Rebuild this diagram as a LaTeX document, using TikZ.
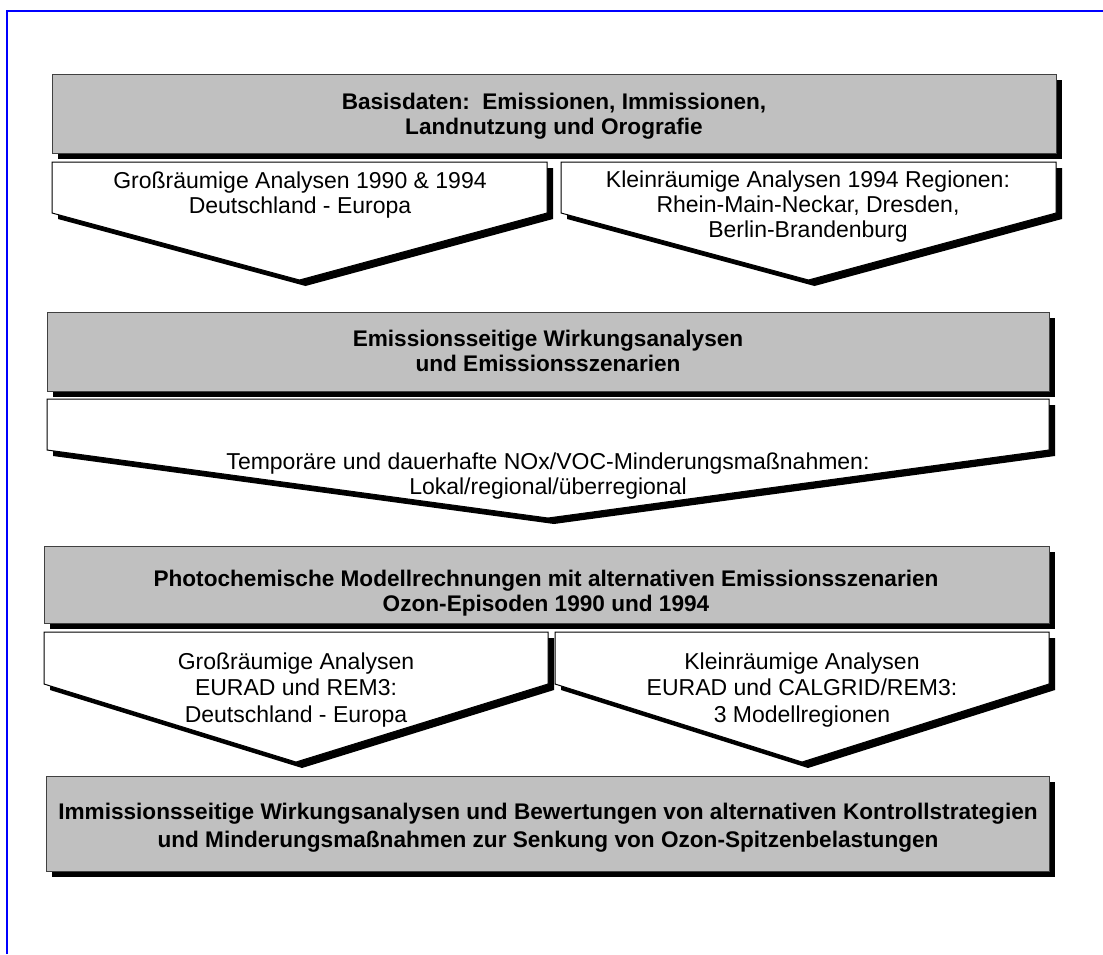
\documentclass[tikz,border=0pt]{standalone}
\usepackage{fontspec}
\setmainfont{Liberation Sans}
\definecolor{boxgray}{HTML}{C0C0C0}
\definecolor{boxedge}{HTML}{404040}
\definecolor{frameblue}{HTML}{0000FF}

\tikzset{
  panel/.style={fill=boxgray, draw=boxedge, line width=1pt},
  tagshape/.style={fill=white, draw=black, line width=1pt},
  castshadow/.style={fill=black},
  plain/.style={font=\fontsize{23}{25}\selectfont, align=center, inner sep=0pt},
  heading/.style={font=\bfseries\fontsize{22.6}{25}\selectfont, align=center, inner sep=0pt},
}

% grey title panel with a black shadow: x1, y1, x2, y2
\newcommand\panelbox[4]{%
  \fill[castshadow] (#1+6,#2+6) rectangle (#3+6,#4+6);
  \draw[panel] (#1,#2) rectangle (#3,#4);
}
% white pentagon pointing downwards: x1, x2, top, corner, tip
\newcommand\downtag[5]{%
  \begin{scope}[shift={(6,6)}]
    \fill[castshadow] (#1,#3) -- (#2,#3) -- (#2,#4) -- ({(#1+#2)/2},#5) -- (#1,#4) -- cycle;
  \end{scope}
  \draw[tagshape] (#1,#3) -- (#2,#3) -- (#2,#4) -- ({(#1+#2)/2},#5) -- (#1,#4) -- cycle;
}

\begin{document}
\begin{tikzpicture}[x=1pt,y=-1pt]
\useasboundingbox (0,0) rectangle (1103,954);
\fill[white] (0,0) rectangle (1103,954);

% outer frame
\draw[frameblue, line width=2.5pt] (7,954) -- (7,11) -- (1103,11);

% level 1
\panelbox{52}{74}{1056}{153}
\downtag{52}{547}{162}{213}{280}
\downtag{561}{1056}{162}{213}{280}

% level 2
\panelbox{47}{312}{1049}{391}
\downtag{47}{1049}{399}{450}{518}

% level 3
\panelbox{44}{546}{1049}{623}
\downtag{44}{548}{632}{684}{762}
\downtag{555}{1049}{632}{684}{762}

% level 4
\panelbox{46}{776}{1049}{871}

% texts
\node[heading] (basis) at (554,116) {Basisdaten:\ \ Emissionen, Immissionen,\\Landnutzung und Orografie};
\node[plain] (gross1) at (300,195) {Großräumige Analysen 1990 \& 1994\\Deutschland - Europa};
\node[plain] (klein1) at (808,207) {Kleinräumige Analysen 1994 Regionen:\\Rhein-Main-Neckar, Dresden,\\Berlin-Brandenburg};
\node[heading] (emis) at (548,351) {Emissionsseitige Wirkungsanalysen\\und Emissionsszenarien};
\node[plain] (mind) at (548,476) {Temporäre und dauerhafte NOx/VOC-Minderungsmaßnahmen:\\Lokal/regional/überregional};
\node[heading] (photo) at (546,593) {Photochemische Modellrechnungen mit alternativen Emissionsszenarien\\Ozon-Episoden 1990 und 1994};
\node[plain, font=\fontsize{23}{26.5}\selectfont] (gross2) at (296,690) {Großräumige Analysen\\EURAD und REM3:\\Deutschland - Europa};
\node[plain, font=\fontsize{23}{26.5}\selectfont] (klein2) at (802,690) {Kleinräumige Analysen\\EURAD und CALGRID/REM3:\\3 Modellregionen};
\node[heading, font=\bfseries\fontsize{22.6}{28}\selectfont] (immis) at (548,828) {Immissionsseitige Wirkungsanalysen und Bewertungen von alternativen Kontrollstrategien\\und Minderungsmaßnahmen zur Senkung von Ozon-Spitzenbelastungen};
\end{tikzpicture}
\end{document}
